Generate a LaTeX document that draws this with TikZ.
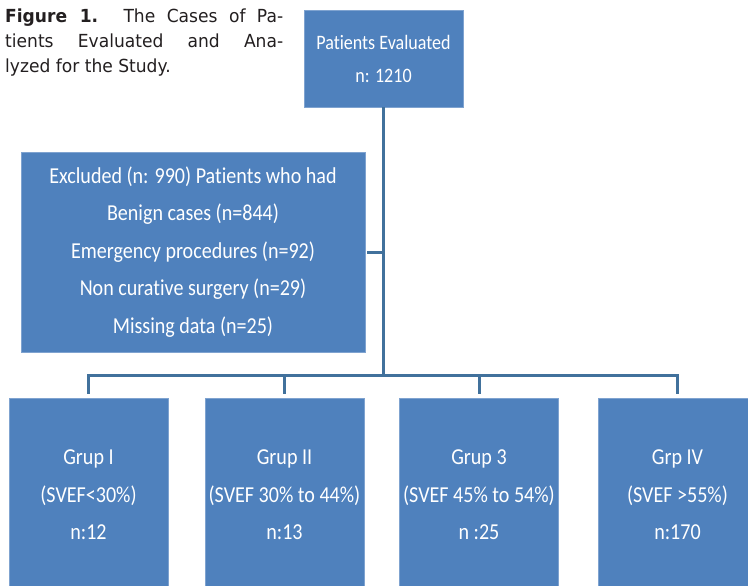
\documentclass[tikz,border=0pt]{standalone}
\usepackage{fontspec}
\setmainfont{DejaVu Sans}[FakeStretch=0.95]
\newfontfamily\boxfont[FakeStretch=0.88, Ligatures=NoCommon]{Carlito}
\definecolor{boxblue}{HTML}{4F81BD}
\definecolor{boxedge}{HTML}{7FA3D0}
\definecolor{linkblue}{HTML}{41719C}
\definecolor{captext}{HTML}{231F20}
\begin{document}
\begin{tikzpicture}[
    x=1pt, y=-1pt,
    box/.style={fill=boxblue, draw=boxedge, line width=0.6pt, text=white,
                inner sep=0pt, align=center,
                font=\boxfont\fontsize{22.8}{37.5}\selectfont},
    topbox/.style={box, minimum width=159pt, minimum height=97pt,
                   font=\boxfont\fontsize{20.5}{33}\selectfont},
    grpbox/.style={box, minimum width=159pt, minimum height=194pt},
    link/.style={draw=linkblue, line width=3pt}
  ]
    \useasboundingbox (0,0) rectangle (748,586);
    \clip (0,0) rectangle (748,586);

    % caption
    \node[anchor=north west, inner sep=0pt, align=left, text=captext,
          font=\fontsize{18}{25}\selectfont] (caption) at (5,9)
      {\makebox[278pt][s]{\textbf{Figure 1.} The Cases of Pa-}\\
       \makebox[278pt][s]{tients Evaluated and Ana-}\\
       lyzed for the Study.};

    \node[topbox] (eval) at (383.5,58.5) {Patients Evaluated\\n: 1210};
    \node[box, minimum width=344pt, minimum height=200pt] (excl) at (193,252)
      {Excluded (n: 990) Patients who had\\Benign cases (n=844)\\
       Emergency procedures (n=92)\\Non curative surgery (n=29)\\
       Missing data (n=25)};

    \node[grpbox] (g1) at (88.5,495)  {Grup I\\(SVEF<30\%)\\n:12};
    \node[grpbox] (g2) at (284.5,495) {Grup II\\(SVEF 30\% to 44\%)\\n:13};
    \node[grpbox] (g3) at (479,495)   {Grup 3\\(SVEF 45\% to 54\%)\\n :25};
    \node[grpbox] (g4) at (677.5,495) {Grp IV\\(SVEF >55\%)\\n:170};

    \coordinate (bus) at (383.5,375);
    \draw[link] (eval.south) -- (bus);
    \draw[link, shorten <=2pt] (excl.east) -- (excl.east -| bus);
    \draw[link] ([yshift=4pt]g1.north) |- (g4.north |- bus)
      -- ([yshift=4pt]g4.north);
    \draw[link] (g2.north |- bus) -- ([yshift=4pt]g2.north);
    \draw[link] (g3.north |- bus) -- ([yshift=4pt]g3.north);
  \end{tikzpicture}
\end{document}
